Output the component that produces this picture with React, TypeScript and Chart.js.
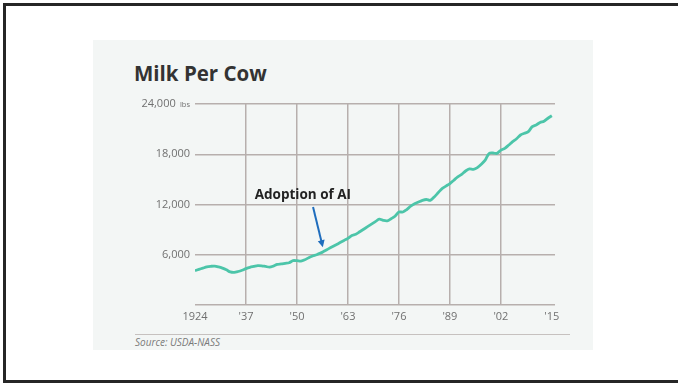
import React, { useEffect, useRef } from "react";
import { Chart, registerables } from "chart.js";
Chart.register(...registerables);

const titleText = "Milk Per Cow";
const sourceText = "Source: USDA-NASS";
const annotationText = "Adoption of AI";

const years = [
  1924, 1925, 1926, 1927, 1928, 1929, 1930, 1931, 1932, 1933, 1934, 1935, 1936, 1937, 1938, 1939,
  1940, 1941, 1942, 1943, 1944, 1945, 1946, 1947, 1948, 1949, 1950, 1951, 1952, 1953, 1954, 1955,
  1956, 1957, 1958, 1959, 1960, 1961, 1962, 1963, 1964, 1965, 1966, 1967, 1968, 1969, 1970, 1971,
  1972, 1973, 1974, 1975, 1976, 1977, 1978, 1979, 1980, 1981, 1982, 1983, 1984, 1985, 1986, 1987,
  1988, 1989, 1990, 1991, 1992, 1993, 1994, 1995, 1996, 1997, 1998, 1999, 2000, 2001, 2002, 2003,
  2004, 2005, 2006, 2007, 2008, 2009, 2010, 2011, 2012, 2013, 2014, 2015,
];

const milkLbs = [
  4100, 4250, 4400, 4550, 4620, 4650, 4550, 4400, 4200, 3950, 3900, 4000, 4150, 4350, 4500, 4600,
  4700, 4680, 4600, 4520, 4650, 4850, 4900, 4980, 5050, 5300, 5290, 5250, 5400, 5650, 5850, 6000,
  6200, 6450, 6700, 6950, 7200, 7450, 7700, 7950, 8300, 8450, 8750, 9050, 9350, 9650, 9950, 10250,
  10100, 10050, 10300, 10600, 11100, 11100, 11400, 11800, 12100, 12300, 12500, 12600, 12500, 12900,
  13400, 13900, 14200, 14500, 14900, 15300, 15600, 16000, 16250, 16200, 16400, 16800, 17300, 18100,
  18150, 18100, 18500, 18700, 19100, 19500, 19850, 20300, 20500, 20700, 21300, 21500, 21800, 21950,
  22300, 22600,
];

const xTickYears = [1924, 1937, 1950, 1963, 1976, 1989, 2002, 2015];
const yTickValues = [0, 6000, 12000, 18000, 24000];
const yUnit = "lbs";

// annotation in data coordinates
const annoLabel = { x: 1951.5, y: 13100 };
const annoArrowTail = { x: 1954.1, y: 11700 };
const annoArrowHead = { x: 1956.6, y: 6900 };

const FONT = "'Open Sans', Lato, sans-serif";
const GRID = "#b7afad";
const TICK = "#707070";

const annotationPlugin = {
  id: "milkAnno",
  afterDraw(chart: any) {
    const { ctx, scales } = chart;
    const xs = scales.x;
    const ys = scales.y;
    ctx.save();
    // units next to top tick
    ctx.font = `7.5px ${FONT}`;
    ctx.fillStyle = TICK;
    ctx.textAlign = "right";
    ctx.textBaseline = "middle";
    ctx.fillText(yUnit, chart.chartArea.left - 5, ys.getPixelForValue(24000) + 0.5);

    // annotation label
    ctx.font = `bold 13.5px ${FONT}`;
    ctx.fillStyle = "#222";
    ctx.textAlign = "center";
    ctx.textBaseline = "middle";
    ctx.fillText(annotationText, xs.getPixelForValue(annoLabel.x), ys.getPixelForValue(annoLabel.y));

    // arrow
    const x1 = xs.getPixelForValue(annoArrowTail.x);
    const y1 = ys.getPixelForValue(annoArrowTail.y);
    const x2 = xs.getPixelForValue(annoArrowHead.x);
    const y2 = ys.getPixelForValue(annoArrowHead.y);
    const ang = Math.atan2(y2 - y1, x2 - x1);
    ctx.strokeStyle = "#1f6dbd";
    ctx.fillStyle = "#1f6dbd";
    ctx.lineWidth = 2;
    ctx.beginPath();
    ctx.moveTo(x1, y1);
    ctx.lineTo(x2 - Math.cos(ang) * 4, y2 - Math.sin(ang) * 4);
    ctx.stroke();
    const hl = 7;
    const hw = 3.5;
    ctx.beginPath();
    ctx.moveTo(x2, y2);
    ctx.lineTo(
      x2 - Math.cos(ang) * hl + Math.sin(ang) * hw,
      y2 - Math.sin(ang) * hl - Math.cos(ang) * hw
    );
    ctx.lineTo(
      x2 - Math.cos(ang) * hl - Math.sin(ang) * hw,
      y2 - Math.sin(ang) * hl + Math.cos(ang) * hw
    );
    ctx.closePath();
    ctx.fill();
    ctx.restore();
  },
};

function MilkChart() {
  const ref = useRef<HTMLCanvasElement | null>(null);
  useEffect(() => {
    if (!ref.current) return;
    const data = years.map((y, i) => ({ x: y, y: milkLbs[i] }));
    const chart = new Chart(ref.current, {
      type: "line",
      data: {
        datasets: [
          {
            data,
            borderColor: "#4cc5a9",
            borderWidth: 2.8,
            pointRadius: 0,
            tension: 0.3,
            fill: false,
          },
        ],
      },
      options: {
        animation: false,
        responsive: false,
        devicePixelRatio: 1,
        layout: { padding: { left: 135, right: 123, top: 104, bottom: 58 } },
        plugins: { legend: { display: false }, tooltip: { enabled: false } },
        scales: {
          x: {
            type: "linear",
            min: 1924,
            max: 2015.8,
            afterBuildTicks: (s: any) => {
              s.ticks = xTickYears.map((v) => ({ value: v }));
            },
            afterFit: (s: any) => {
              s.height = 20;
            },
            grid: {
              drawTicks: false,
              lineWidth: 1.5,
              color: (c: any) =>
                c.tick && (c.tick.value === 1924 || c.tick.value === 2015) ? "rgba(0,0,0,0)" : GRID,
            },
            border: { display: false },
            ticks: {
              autoSkip: false,
              maxRotation: 0,
              padding: 5,
              color: TICK,
              font: { family: FONT, size: 11 },
              callback: (v: any) => (v === 1924 ? "1924" : "'" + String(v).slice(2)),
            },
          },
          y: {
            min: 0,
            max: 24000,
            afterBuildTicks: (s: any) => {
              s.ticks = yTickValues.map((v) => ({ value: v }));
            },
            afterFit: (s: any) => {
              s.width = 60;
            },
            grid: { drawTicks: false, lineWidth: 1.5, color: GRID },
            border: { display: false },
            ticks: {
              padding: 5,
              color: TICK,
              font: { family: FONT, size: 11 },
              callback: (v: any) =>
                v === 0 ? "" : Number(v).toLocaleString("en-US") + (v === 24000 ? "     " : ""),
            },
          },
        },
      },
      plugins: [annotationPlugin],
    });
    return () => chart.destroy();
  }, []);
  return (
    <canvas
      ref={ref}
      width={678}
      height={383}
      style={{ position: "absolute", left: 0, top: 0, width: 678, height: 383 }}
    />
  );
}

export default function App() {
  return (
    <div
      style={{
        position: "fixed",
        left: 0,
        top: 0,
        width: 678,
        height: 383,
        background: "#ffffff",
        overflow: "hidden",
        fontFamily: FONT,
      }}
    >
      <div
        style={{
          position: "absolute",
          left: 3,
          top: 3,
          width: 720,
          height: 374,
          border: "3px solid #262626",
        }}
      />
      <div
        style={{
          position: "absolute",
          left: 93,
          top: 40,
          width: 500,
          height: 310,
          background: "#f3f6f5",
        }}
      />
      <div
        style={{
          position: "absolute",
          left: 135,
          top: 334,
          width: 435,
          height: 1,
          background: "#c6c1bf",
        }}
      />
      <div
        style={{
          position: "absolute",
          left: 134,
          top: 59,
          fontSize: 20.5,
          lineHeight: "28px",
          fontWeight: 700,
          color: "#333333",
          whiteSpace: "nowrap",
        }}
      >
        {titleText}
      </div>
      <div
        style={{
          position: "absolute",
          left: 135,
          top: 336,
          fontSize: 10,
          lineHeight: "13px",
          fontStyle: "italic",
          color: "#7a7a7a",
          whiteSpace: "nowrap",
        }}
      >
        {sourceText}
      </div>
      <MilkChart />
    </div>
  );
}
